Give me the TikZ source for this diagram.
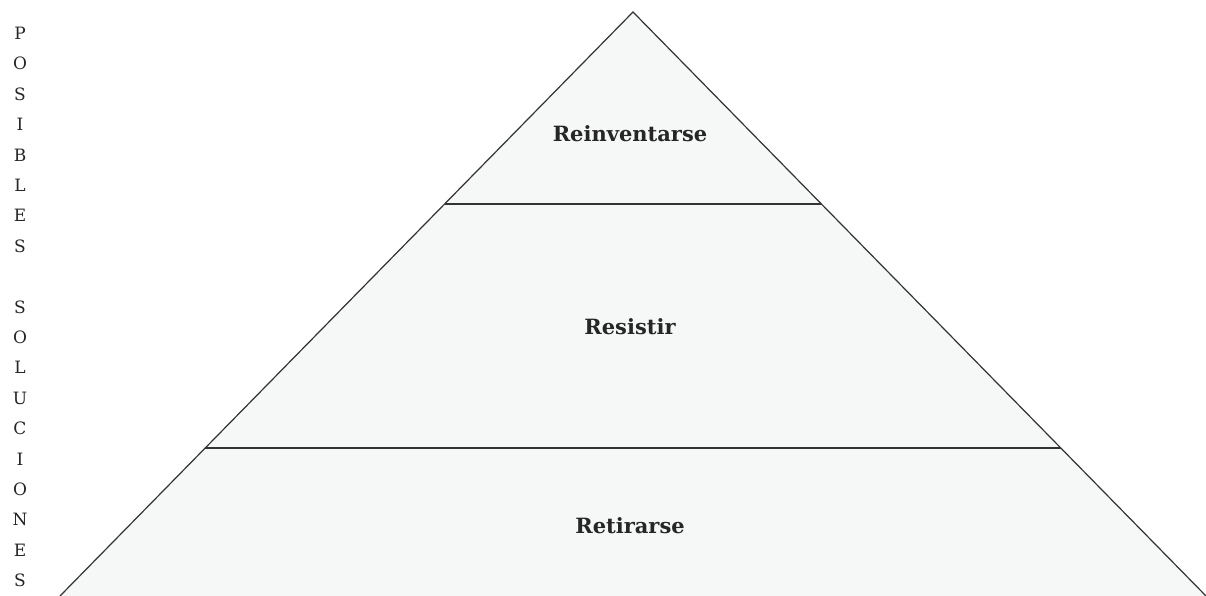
\documentclass[tikz,border=0pt]{standalone}
\usepackage{fontspec}
\setmainfont{DejaVu Serif}
\usetikzlibrary{calc}
\definecolor{layerfill}{HTML}{F6F7F7}
\definecolor{edge}{HTML}{333333}
\tikzset{
  outline/.style={draw=edge, line width=1.2pt},
  layerlabel/.style={font=\bfseries\fontsize{21}{24}\selectfont, text=black!85},
  sidelabel/.style={font=\fontsize{17}{30.4}\selectfont, align=center, text=black!85, anchor=north, inner sep=0pt}
}
\begin{document}
\begin{tikzpicture}[x=1pt,y=1pt]
  \useasboundingbox (0,0) rectangle (1206,596);
  \fill[white] (0,0) rectangle (1206,596);

  % pyramid corners
  \coordinate (apex) at (633,584);
  \coordinate (bl) at (60,0);
  \coordinate (br) at (1206,0);

  % body of the pyramid
  \fill[layerfill] (bl) -- (apex) -- (br) -- cycle;
  \draw[outline] (bl) -- (apex) -- (br);

  % level boundaries
  \coordinate (l1) at ($(apex)!0.3288!(bl)$);
  \coordinate (r1) at ($(apex)!0.3288!(br)$);
  \coordinate (l2) at ($(apex)!0.7466!(bl)$);
  \coordinate (r2) at ($(apex)!0.7466!(br)$);
  \draw[outline] (l1) -- (r1);
  \draw[outline] (l2) -- (r2);

  % level labels
  \node[layerlabel] (top) at (630,462) {Reinventarse};
  \node[layerlabel] (mid) at (630,269) {Resistir};
  \node[layerlabel] (low) at (630,70) {Retirarse};

  % vertical caption on the left
  \node[sidelabel] (caption) at (20,569)
    {P\\O\\S\\I\\B\\L\\E\\S\\\mbox{}\\S\\O\\L\\U\\C\\I\\O\\N\\E\\S};
\end{tikzpicture}
\end{document}
